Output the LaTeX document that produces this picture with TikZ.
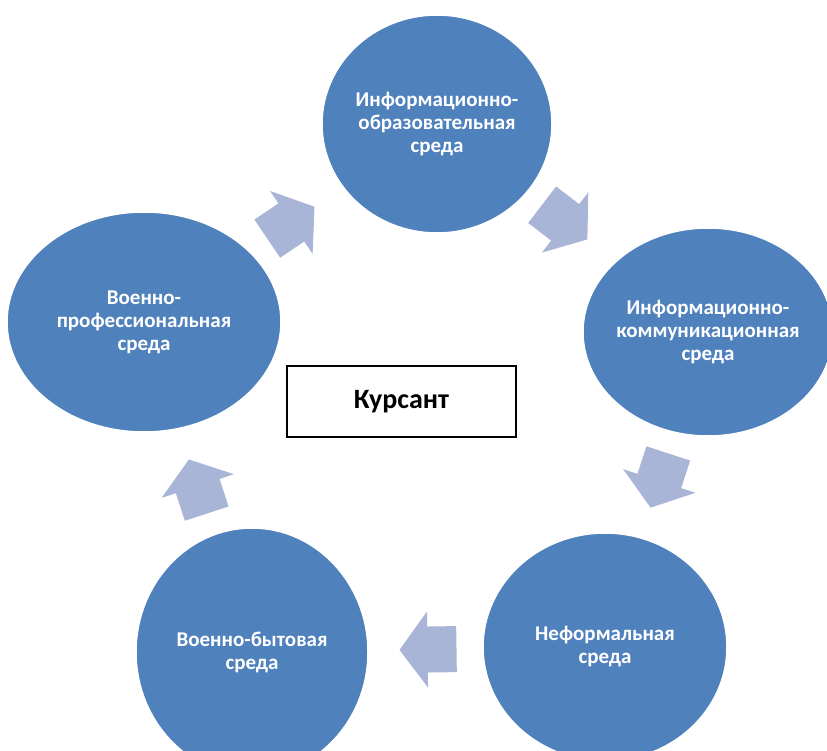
\documentclass[tikz,border=0pt]{standalone}
\usepackage{fontspec}
\setmainfont{Carlito}
\usetikzlibrary{shapes.geometric}
\definecolor{circblue}{RGB}{79,129,189}
\definecolor{arrowblue}{RGB}{169,181,214}
\tikzset{
  env/.style={ellipse, fill=circblue, draw=white, line width=1.5pt,
    inner sep=0pt, inner xsep=-20pt, text=white, align=center,
    font=\bfseries\fontsize{21}{23}\selectfont},
  centerbox/.style={draw=black, line width=1.5pt, fill=white,
    minimum width=229pt, minimum height=71pt,
    font=\bfseries\fontsize{28}{32}\selectfont},
  pics/blockarrow/.style={code={
    \fill[arrowblue] (-28,-23) -- (1,-23) -- (1,-38) -- (29,0)
      -- (1,38) -- (1,23) -- (-28,23) -- cycle;}}
}
\begin{document}
\begin{tikzpicture}[x=1pt, y=-1pt]
  \clip (0,0) rectangle (827,751);
  \fill[white] (0,0) rectangle (827,751);

  \node[env, minimum width=230pt, minimum height=218pt] (T) at (437,124)
    {Информационно-\\образовательная\\среда};
  \node[env, minimum width=250pt, minimum height=208pt] (R) at (708,332)
    {Информационно-\\коммуникационная\\среда};
  \node[env, minimum width=244pt, minimum height=228pt] (BR) at (605,647)
    {Неформальная\\среда};
  \node[env, minimum width=232pt, minimum height=248pt] (BL) at (252,652)
    {Военно-бытовая\\среда};
  \node[env, minimum width=274pt, minimum height=220pt] (L) at (144,322)
    {Военно-\\профессиональная\\среда};

  \node[centerbox] (K) at (401.5,401.5) {Курсант};

  \path (L.center) -- (T.center) pic[pos=0.5, sloped, allow upside down] {blockarrow};
  \path (T.center) -- (R.center) pic[pos=0.47, sloped, allow upside down] {blockarrow};
  \path (R.center) -- (BR.center) pic[pos=0.47, sloped, allow upside down] {blockarrow};
  \path (BR.center) -- (BL.center) pic[pos=0.5, sloped, allow upside down] {blockarrow};
  \path (BL.center) -- (L.center) pic[pos=0.5, sloped, allow upside down] {blockarrow};
\end{tikzpicture}
\end{document}
